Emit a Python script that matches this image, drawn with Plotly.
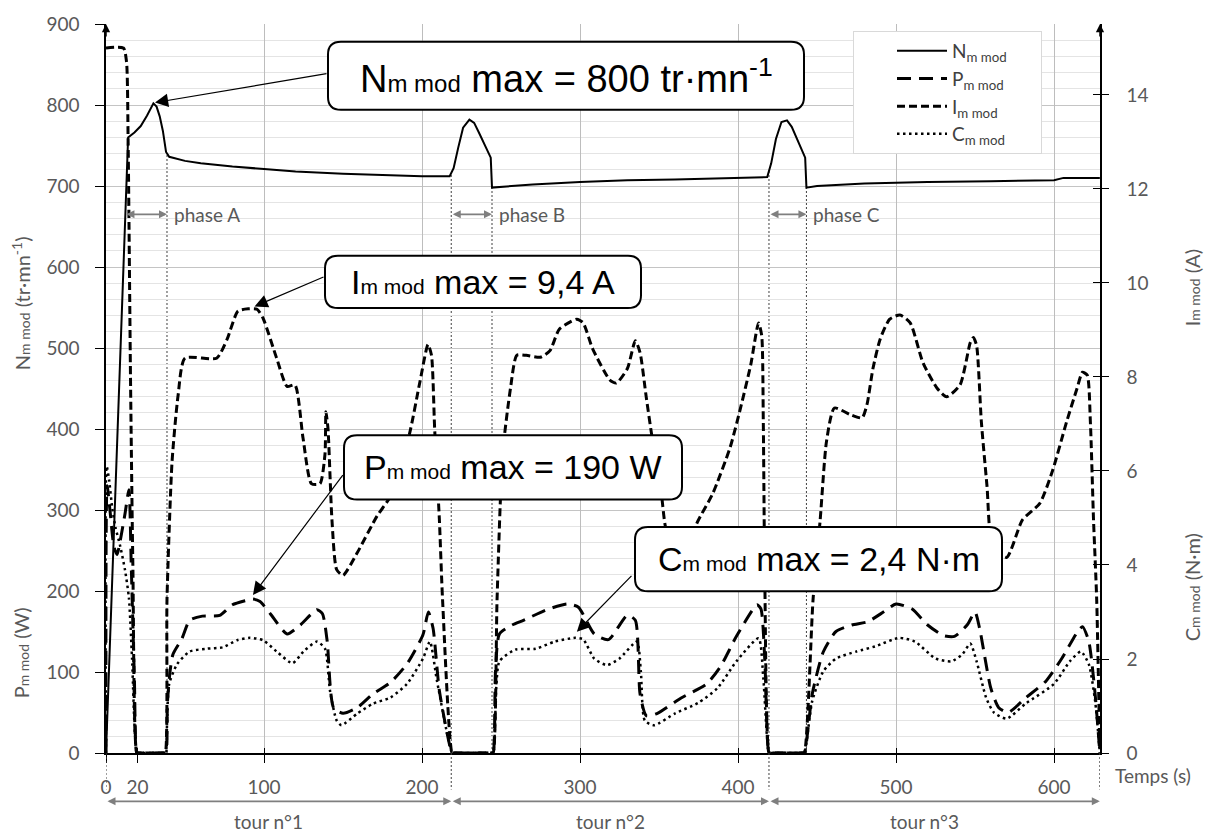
import numpy as np
import plotly.graph_objects as go

# ---------------- data ----------------
t_N = [0, 14, 18, 22, 26, 30, 32, 34, 36, 38, 40, 50, 60, 80, 100, 120, 150, 180, 200, 217.5,
       220, 223, 226, 230, 233, 236, 240, 243.5, 244.3, 250, 270, 300, 330, 360, 400, 418.5,
       421, 424, 427.5, 431, 434, 437, 440, 442.5, 443.3, 450, 480, 520, 560, 600, 606, 629]
N_mod = [0, 760, 766, 774, 787, 802, 798, 786, 768, 742, 736, 731, 728, 724, 721, 718, 715, 713, 712, 712,
         722, 748, 772, 782, 778, 766, 750, 735, 698, 699, 702, 705, 707, 708, 710, 711,
         728, 758, 779, 781, 773, 760, 745, 735, 698, 700, 703, 705, 706, 707, 710, 710]

t_P = [0, 0.7, 2.5, 5, 7, 9, 12, 14.5, 16, 18, 19.5, 20.5, 37, 38, 38.8, 40.5, 42.4, 48, 53, 61, 72, 80, 88, 93,
       97.5, 104, 114.6, 123, 133.5, 137, 140, 144, 150, 159, 169, 180, 190.5, 200.6, 204, 207, 211,
       219, 220, 244, 245, 246.5, 249, 257, 264.5, 279, 292, 299, 309, 318, 330, 335, 338, 342, 349, 364, 380,
       389, 399, 412, 414.5, 417, 419.6, 420.6, 441, 442, 447, 454, 462, 472, 482, 492, 500, 510, 520, 530, 537,
       545, 550, 553, 560, 565, 571, 582, 595, 605, 615, 618, 622, 626, 629]
P_mod = [0, 330, 300, 255, 245, 262, 295, 325, 230, 90, 0, 0, 0, 0, 60, 100, 122, 141, 164, 169, 170, 183, 188, 190,
         187, 172, 147, 158, 177, 172, 138, 56, 49, 56, 73, 87, 110, 146, 174, 154, 77,
         0, 0, 0, 0, 100, 147, 158, 164, 177, 184, 180, 147, 140, 170, 164, 73, 46, 49, 68, 85,
         107, 144, 183, 178, 113, 0, 0, 0, 0, 73, 125, 150, 158, 162, 174, 184, 178, 158, 145, 144,
         158, 174, 153, 80, 56, 50, 68, 89, 117, 150, 156, 138, 73, 0]

t_I = [0, 11, 13, 14, 15.5, 17, 19.5, 20.5, 36.5, 37.5, 38.6, 41.8, 45.6, 50, 70, 76.6, 83.5, 90, 95.6, 99.4, 108,
       114.6, 119.6, 124.7, 130, 135.4, 138.6, 139.2, 140.5, 143, 146, 150, 159, 171.5, 180, 192, 198.7,
       203.8, 206, 208, 211, 213, 219, 220, 244, 245, 247.5, 251, 256, 260, 266, 275, 281, 287, 298, 302, 308,
       319, 323, 330, 335, 338, 342, 346, 351, 354, 360, 366, 374, 384, 395, 401, 408, 413, 415, 416,
       417, 419.6, 420.6, 441, 442, 447.5, 452, 456, 461, 471, 478.5, 481.6, 485.4, 490, 496, 502.5, 509, 517,
       526, 532, 540.5, 547, 549, 551, 554, 557.6, 561, 570, 580, 591, 599, 608, 614.6, 618, 621,
       623, 625, 627, 629]
I_mod = [15.0, 15.0, 14.7, 13.0, 8.0, 4.0, 0, 0, 0, 0, 3.27, 6.2, 7.6, 8.4, 8.4, 8.8, 9.4, 9.45, 9.44, 9.25, 8.4,
         7.8, 7.83, 6.7, 5.73, 5.73, 6.36, 7.26, 6.9, 4.96, 3.9, 3.78, 4.26, 5.04, 5.46, 6.78, 7.9,
         8.69, 8.46, 6.9, 4.96, 3.27, 0, 0, 0, 0, 3.27, 6.36, 7.76, 8.46, 8.46, 8.42, 8.56, 9.02, 9.23, 9.15, 8.6,
         7.93, 7.87, 8.18, 8.77, 8.52, 7.55, 6.63, 5.67, 4.83, 4.2, 4.1, 4.89, 5.52, 6.5, 7.26, 8.25, 9.15, 8.88, 7.05,
         3.57, 0, 0, 0, 0, 3.27, 4.96, 6.63, 7.34, 7.2, 7.13, 7.41, 8.18, 8.81, 9.23, 9.32, 9.15, 8.31,
         7.76, 7.58, 7.83, 8.73, 8.84, 8.67, 7.05, 5.67, 4.41, 4.16, 4.96, 5.31, 6.0, 7.05, 7.76, 8.1, 8.04,
         7.05, 4.96, 3.27, 0]

t_C = [0, 0.4, 2, 4, 6, 9, 12, 14.5, 16.5, 19.5, 20.5, 37, 38, 38.6, 40, 45, 53, 64, 74, 83, 91, 99.4, 108, 118, 125,
       133.5, 138.6, 141.8, 146, 149, 159, 169, 180, 190.5, 200.6, 205, 209.5, 219, 220, 244, 245, 247, 249, 259,
       272, 284, 297, 302, 309, 317, 325, 336, 338.5, 341, 347, 360, 375, 387, 399, 413, 416, 419.6,
       420.6, 441, 442, 447, 454, 462, 475, 487, 502, 512, 525, 535, 542, 547, 551, 557, 562, 570, 582, 600, 610,
       617, 622, 626, 629]
C_mod = [0, 6.1, 5.8, 5.2, 4.8, 4.4, 3.9, 3.3, 2.0, 0, 0, 0, 0, 0.6, 1.47, 1.89, 2.16, 2.22, 2.25, 2.4, 2.45, 2.4, 2.16, 1.91, 2.16,
         2.37, 2.22, 1.32, 0.69, 0.59, 0.84, 1.05, 1.18, 1.47, 2.01, 2.37, 1.53, 0, 0, 0, 0, 1.4, 1.95, 2.2,
         2.22, 2.37, 2.45, 2.42, 2.01, 1.87, 2.01, 2.37, 1.74, 0.69, 0.59, 0.84, 1.07, 1.38, 1.95, 2.44, 1.6, 0,
         0, 0, 0, 1.11, 1.74, 2.01, 2.16, 2.27, 2.45, 2.37, 2.01, 1.95, 2.1, 2.33, 1.95, 1.18, 0.86, 0.73, 1.05, 1.47, 1.95,
         2.16, 1.89, 1.11, 0]

x_tickvals = [0, 20, 100, 200, 300, 400, 500, 600]
x_ticktext = ["0", "20", "100", "200", "300", "400", "500", "600"]
x_grid = [100, 200, 300, 400, 500, 600]
yl_ticks = list(range(0, 901, 100))
yr_ticks = list(range(0, 15, 2))

tour_bounds = [0, 218.5, 419.6, 629]
tour_labels = ["tour n°1", "tour n°2", "tour n°3"]
tour_label_pos = [103, 319.5, 518]
phases = [("phase A", 12, 38.6), ("phase B", 218.5, 244.3), ("phase C", 419.6, 443.3)]
phase_arrow_level = 665

# ---------------- layout constants ----------------
W, H = 1222, 836
L, R, T, B = 106, 122, 14, 83
PW, PH = W - L - R, H - T - B
X_RANGE = [0, 629.1]
YL_RANGE = [0, 900]
YR_RANGE = [0, 15.51]
GRAY = "#595959"
TXT_FONT = "Lato"
BOX_FONT = "Liberation Sans, Arial"


def px(X):
    return (X - L) / PW


def py(Y):
    return (H - B - Y) / PH


fig = go.Figure()

NB = "&nbsp;" * 6
SPL = dict(shape="spline", smoothing=0.6)
fig.add_trace(go.Scatter(x=t_N, y=N_mod, mode="lines", name="N<sub>m mod</sub>" + NB,
                         line=dict(color="black", width=2), legendgroup="a"))
fig.add_trace(go.Scatter(x=t_P, y=P_mod, mode="lines", name="P<sub>m mod</sub>" + NB,
                         line=dict(color="black", width=3, dash="14px,8px", **SPL), legendgroup="b"))
fig.add_trace(go.Scatter(x=t_I, y=I_mod, mode="lines", name="I<sub>m mod</sub>" + NB, yaxis="y2",
                         line=dict(color="black", width=3, dash="8px,4px", **SPL), legendgroup="c"))
fig.add_trace(go.Scatter(x=t_C, y=C_mod, mode="lines", name="C<sub>m mod</sub>" + NB, yaxis="y2",
                         line=dict(color="black", width=2.5, dash="2.5px,3.5px", **SPL), legendgroup="d"))

# helper traces for the overlaid axes (crossing ticks, vertical grid)
for xa, ya in (("x2", "y"), ("x3", "y"), ("x", "y3")):
    fig.add_trace(go.Scatter(x=[None], y=[None], xaxis=xa, yaxis=ya, showlegend=False,
                             hoverinfo="skip", mode="lines"))

tickfont = dict(family=TXT_FONT, size=19, color=GRAY)

fig.update_layout(
    width=W, height=H, margin=dict(l=L, r=R, t=T, b=B),
    paper_bgcolor="white", plot_bgcolor="white",
    showlegend=True,
    legend=dict(x=px(853), y=py(21), xanchor="left", yanchor="top",
                bgcolor="white", bordercolor="#d9d9d9", borderwidth=1,
                font=dict(family=TXT_FONT, size=19, color="#404040"),
                itemwidth=50, indentation=38, tracegroupgap=0, traceorder="grouped"),
    xaxis=dict(range=X_RANGE, tickmode="array", tickvals=x_tickvals, ticktext=x_ticktext,
               ticks="outside", ticklen=8, tickwidth=1.3, tickcolor="black",
               showline=True, linecolor="black", linewidth=1.5, showgrid=False, zeroline=False,
               tickfont=dict(family=TXT_FONT, size=19, color=GRAY), ticklabelstandoff=8),
    xaxis2=dict(range=X_RANGE, overlaying="x", anchor="y", side="bottom", tickmode="array",
                tickvals=x_tickvals, ticks="inside", ticklen=5, tickwidth=1.3, tickcolor="black",
                showticklabels=False, showline=False, showgrid=False, zeroline=False),
    xaxis3=dict(range=X_RANGE, overlaying="x", anchor="y", tickmode="array", tickvals=x_grid,
                ticks="", showticklabels=False, showline=False, showgrid=True,
                gridcolor="#bdbdbd", gridwidth=1, zeroline=False),
    yaxis=dict(range=YL_RANGE, tickmode="array", tickvals=yl_ticks, ticks="outside", ticklen=9,
               tickwidth=1.3, tickcolor="black", showline=True, linecolor="black", linewidth=1.5,
               showgrid=True, gridcolor="#c4c4c4", gridwidth=1, zeroline=False,
               minor=dict(dtick=20, showgrid=True, gridcolor="#e4e4e4", gridwidth=1, ticks=""),
               tickfont=tickfont, ticklabelstandoff=12),
    yaxis2=dict(range=YR_RANGE, overlaying="y", side="right", anchor="x", tickmode="array",
                tickvals=yr_ticks, ticks="outside", ticklen=7, tickwidth=1.3, tickcolor="black",
                showline=True, linecolor="black", linewidth=1.5, showgrid=False, zeroline=False,
                tickfont=tickfont, ticklabelstandoff=14),
    yaxis3=dict(range=YR_RANGE, overlaying="y", side="right", anchor="x", tickmode="array",
                tickvals=yr_ticks, ticks="inside", ticklen=7, tickwidth=1.3, tickcolor="black",
                showticklabels=False, showline=False, showgrid=False, zeroline=False),
)

shapes = []
annots = []
dot_line = dict(color="#404040", width=1, dash="2px,2px")

# dotted guides from the speed curve down to the time axis
for t in sorted({p[2] for p in phases} | set(tour_bounds[1:3])):
    shapes.append(dict(type="line", xref="x", yref="y", x0=t, x1=t, y0=0,
                       y1=float(np.interp(t, t_N, N_mod)), line=dot_line, layer="below"))
# dotted guides below the axis at the tour limits
for t in tour_bounds:
    shapes.append(dict(type="line", xref="x", yref="paper", x0=t, x1=t, y0=0, y1=py(790),
                       line=dot_line))

# tour double arrows and labels
for i, lab in enumerate(tour_labels):
    a, b = tour_bounds[i], tour_bounds[i + 1]
    annots.append(dict(x=b, y=py(802), xref="x", yref="paper", ax=a, ay=0, axref="x", ayref="pixel",
                       text="", showarrow=True, arrowhead=2, arrowside="end+start", arrowsize=1,
                       arrowwidth=1.6, arrowcolor="#7f7f7f", standoff=0, startstandoff=0))
    annots.append(dict(x=tour_label_pos[i], y=py(822), xref="x", yref="paper", text=lab,
                       showarrow=False, font=dict(family=TXT_FONT, size=19, color=GRAY),
                       xanchor="center", yanchor="middle"))

# phase double arrows and labels
for lab, a, b in phases:
    annots.append(dict(x=b, y=phase_arrow_level, xref="x", yref="y", ax=a, ay=phase_arrow_level,
                       axref="x", ayref="y", text="", showarrow=True, arrowhead=2,
                       arrowside="end+start", arrowsize=1, arrowwidth=1.6, arrowcolor="#7f7f7f",
                       standoff=0, startstandoff=0))
    annots.append(dict(x=b, y=phase_arrow_level, xref="x", yref="y", xshift=5, text=lab,
                       showarrow=False, xanchor="left", yanchor="middle",
                       font=dict(family=TXT_FONT, size=19, color=GRAY)))

# arrows at the top of the two vertical axes
for xp in (0, 1):
    annots.append(dict(x=xp, y=1, xref="paper", yref="paper", ax=0, ay=14, text="", showarrow=True,
                       arrowhead=2, arrowsize=1.1, arrowwidth=1.5, arrowcolor="black", standoff=0))

# axis titles
sub = '<span style="font-size:14px">%s</span>'
titles = [
    ("N" + sub % "m mod" + " (tr·mn<sup>-1</sup>)", 21, 297),
    ("P" + sub % "m mod" + " (W)", 21, 652),
    ("I" + sub % "m mod" + " (A)", 1192, 282),
    ("C" + sub % "m mod" + " (N·m)", 1192, 585),
]
for txt, X, Y in titles:
    annots.append(dict(x=px(X), y=py(Y), xref="paper", yref="paper", text=txt, textangle=-90,
                       showarrow=False, xanchor="center", yanchor="middle",
                       font=dict(family=TXT_FONT, size=20, color=GRAY)))
annots.append(dict(x=px(1153), y=py(776), xref="paper", yref="paper", text="Temps (s)",
                   showarrow=False, xanchor="center", yanchor="middle",
                   font=dict(family=TXT_FONT, size=19, color=GRAY)))


# callout boxes with rounded corners
def rounded(x0, y0, x1, y1, r=13):
    pts = [
        ("M", [(x0 + r, y0)]), ("L", [(x1 - r, y0)]), ("Q", [(x1, y0), (x1, y0 + r)]),
        ("L", [(x1, y1 - r)]), ("Q", [(x1, y1), (x1 - r, y1)]), ("L", [(x0 + r, y1)]),
        ("Q", [(x0, y1), (x0, y1 - r)]), ("L", [(x0, y0 + r)]), ("Q", [(x0, y0), (x0 + r, y0)]),
    ]
    out = ""
    for cmd, ps in pts:
        out += cmd + " " + " ".join("%.5f,%.5f" % (px(a), py(b)) for a, b in ps) + " "
    return out + "Z"


def btxt(sym, rest, sub_size):
    return sym + '<span style="font-size:%dpx">m mod</span>' % sub_size + rest


callouts = [
    # text, font size, box px, arrow tip (data), arrow tail (data), y axis
    (btxt("N", " max = 800 tr·mn<sup>-1</sup>", 24), 38, (328, 32, 804, 101), (31, 803), (140.5, 839), "y"),
    (btxt("I", " max = 9,4 A", 21), 34, (325, 249, 641, 302), (94, 9.5), (138.6, 10.14), "y2"),
    (btxt("P", " max = 190 W", 21), 34, (344, 431, 682, 496), (93, 195), (150.6, 345), "y"),
    (btxt("C", " max = 2,4 N·m", 21), 34, (635, 524, 1002, 589), (298, 2.58), (333.5, 3.8), "y2"),
]
for txt, fs, (x0, y0, x1, y1), tip, tail, yr in callouts:
    shapes.append(dict(type="path", xref="paper", yref="paper", path=rounded(x0, y0, x1, y1),
                       fillcolor="white", line=dict(color="black", width=2), layer="above"))
    annots.append(dict(x=px((x0 + x1) / 2), y=py((y0 + y1) / 2), xref="paper", yref="paper",
                       text=txt, showarrow=False, xanchor="center", yanchor="middle",
                       font=dict(family=BOX_FONT, size=fs, color="black")))
    annots.append(dict(x=tip[0], y=tip[1], xref="x", yref=yr, ax=tail[0], ay=tail[1], axref="x",
                       ayref=yr, text="", showarrow=True, arrowhead=2, arrowsize=2.2,
                       arrowwidth=1.2, arrowcolor="black", standoff=0))

fig.update_layout(shapes=shapes, annotations=annots)
fig.write_html("out.html", config={"displayModeBar": False},
               post_script="document.body.style.margin='0';document.body.style.overflow='hidden';")
